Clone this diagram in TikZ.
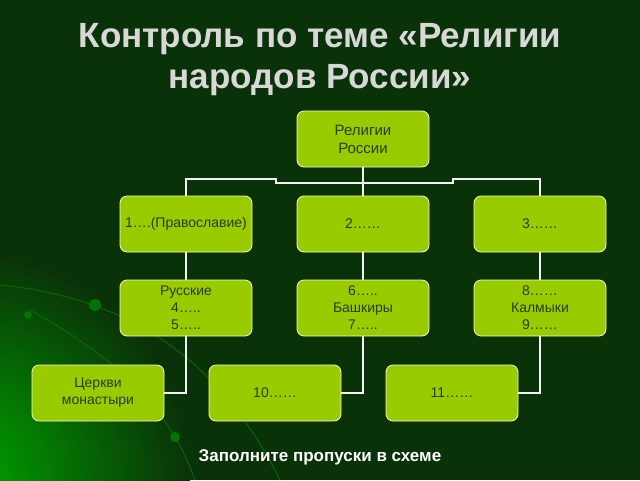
\documentclass[tikz,border=0pt]{standalone}
\usepackage{fontspec}
\setmainfont{Liberation Sans}
\definecolor{bgdark}{HTML}{0A3208}
\definecolor{boxgreen}{HTML}{99CC00}
\definecolor{titlegray}{HTML}{D8D8D8}
\definecolor{boxtext}{HTML}{2E3A10}
\begin{document}
\begin{tikzpicture}[
        x = 1pt, y = -1pt, % pixel-like units, y going down
        every node/.style = {font=\fontsize{14}{17}\selectfont},
        topic/.style = {
            draw = white!85!boxgreen,
            thick,
            fill = boxgreen,
            rounded corners = 7pt,
            minimum width = 132pt,
            minimum height = 56pt,
            align = center,
            text = boxtext
        },
        link/.style = {draw = white!90!gray, line width = 1.5pt}
    ]

    % background
    \useasboundingbox (0,0) rectangle (640,480);
    \begin{scope}
        \clip (0,0) rectangle (640,480);
        \fill[bgdark] (0,0) rectangle (640,480);
        \shade[inner color=green!65!black, outer color=bgdark]
            (-40,480) circle (230);
        \draw[green!45!black, thick] (0,285) .. controls (150,300) and (230,380) .. (280,480);
        \draw[green!45!black, thick] (30,310) .. controls (120,360) and (170,410) .. (195,480);
        \fill[green!45!black] (95,305) circle (6) (28,315) circle (4) (175,437) circle (5);
    \end{scope}

    % title
    \node[text=titlegray, align=center, font=\fontsize{35}{41}\selectfont\bfseries] (title) at (320,60)
        {Контроль по теме «Религии\\народов России»};

    \node[topic, font=\fontsize{15}{18}\selectfont] (root) at (363,139) {Религии\\России};

    \node[topic] (b1) at (186,224) {1….(Православие)};
    \node[topic] (b2) at (363,224) {2……};
    \node[topic] (b3) at (540,224) {3……};

    \node[topic] (p1) at (186,308) {Русские\\4…..\\5…..};
    \node[topic] (p2) at (363,308) {6…..\\Башкиры\\7…..};
    \node[topic] (p3) at (540,308) {8……\\Калмыки\\9……};

    \node[topic] (c1) at (98,393) {Церкви\\монастыри};
    \node[topic] (c2) at (275,393) {10……};
    \node[topic] (c3) at (452,393) {11……};

    \node[text=white, font=\fontsize{17}{20}\selectfont\bfseries] (note) at (320,457)
        {Заполните пропуски  в схеме};

    \coordinate (fork) at (363,183);
    \draw[link] (root) -- (b2);
    \draw[link] (fork) -- (276,183) -- (276,179) -| (b1);
    \draw[link] (fork) -- (453,183) -- (453,179) -| (b3);
    \draw[link] (b1) -- (p1);
    \draw[link] (b2) -- (p2);
    \draw[link] (b3) -- (p3);
    \draw[link] (p1) |- (c1);
    \draw[link] (p2) |- (c2);
    \draw[link] (p3) |- (c3);

\end{tikzpicture}
\end{document}
